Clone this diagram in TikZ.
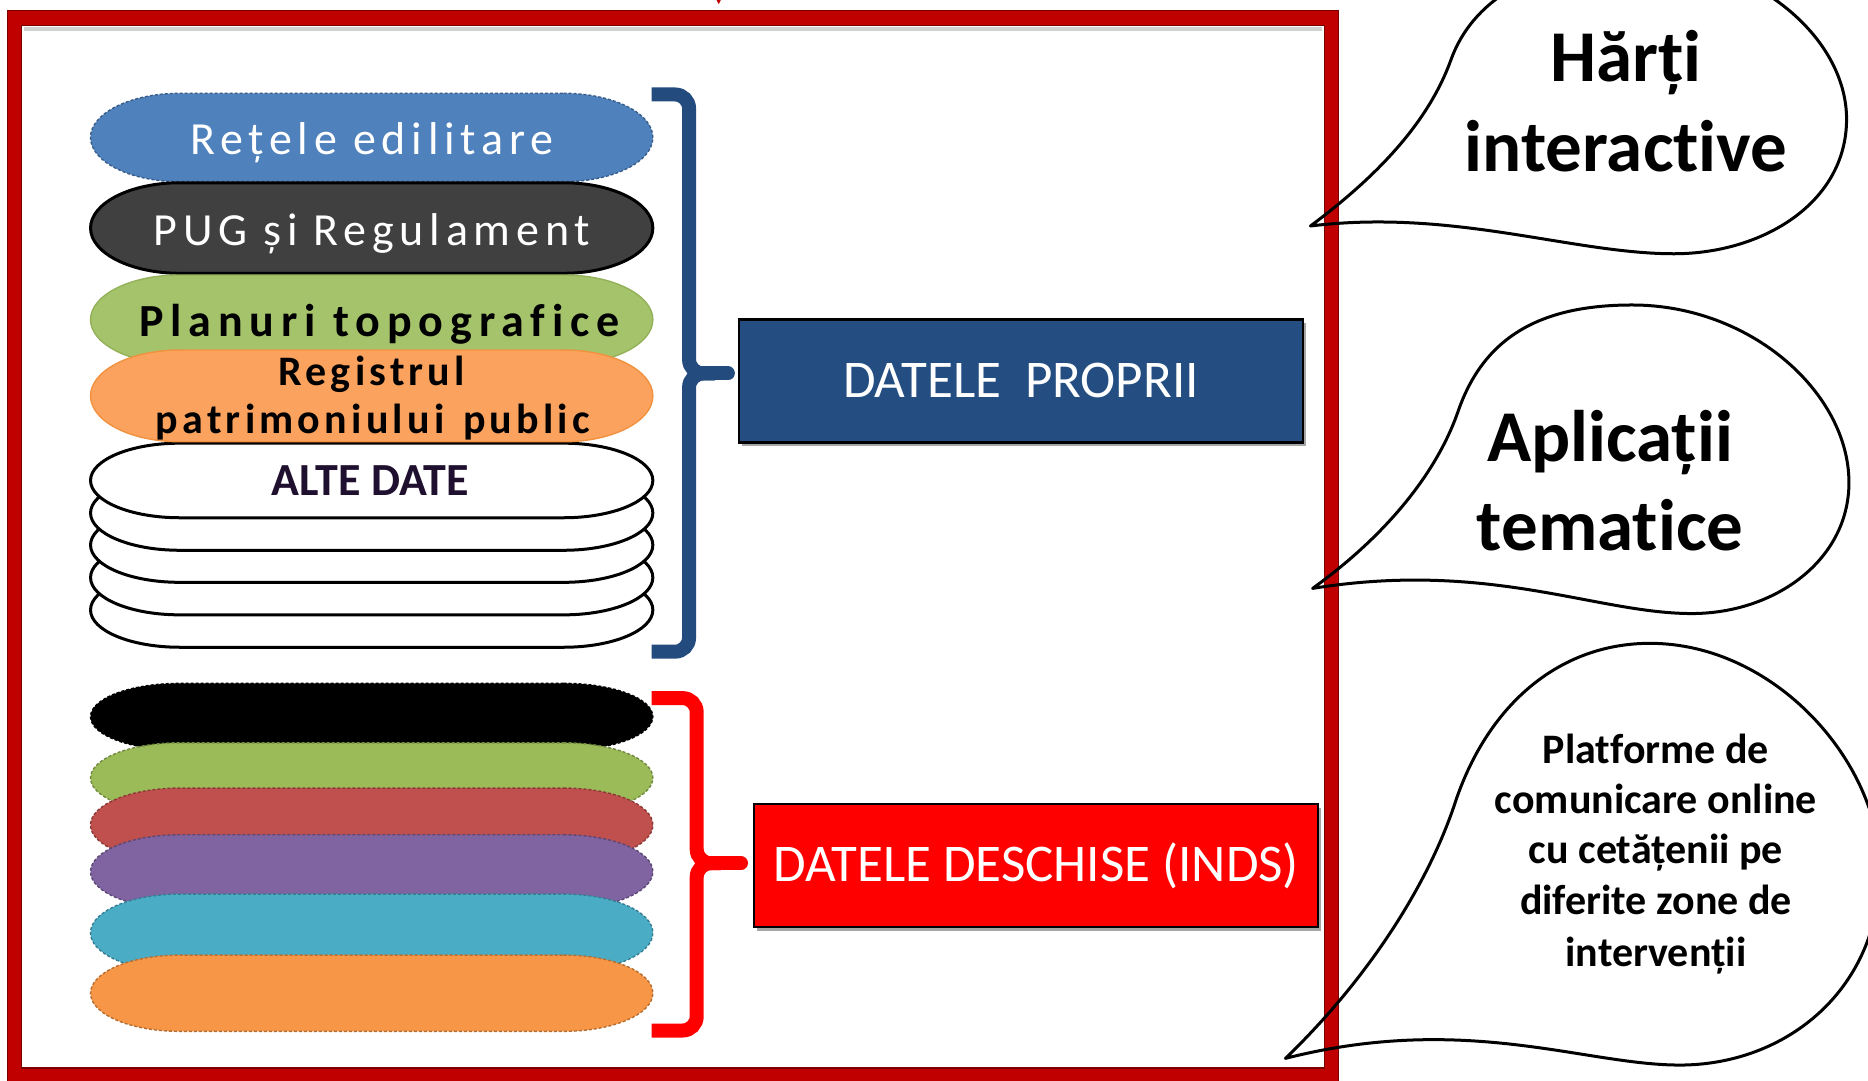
\documentclass[tikz,border=0pt]{standalone}
\usepackage{fontspec}
\setmainfont{Carlito}[Ligatures={NoCommon}]
\newfontfamily\spacedA{Carlito}[LetterSpace=12.5, Ligatures={NoCommon}]
\newfontfamily\spacedB{Carlito}[LetterSpace=10, Ligatures={NoCommon}]
\newfontfamily\spacedC{Carlito}[LetterSpace=15, Ligatures={NoCommon}]
\usetikzlibrary{shadows}
\definecolor{frameRed}{HTML}{C00000}
\definecolor{frameDark}{HTML}{7A0000}
\definecolor{brBlue}{HTML}{234B7E}
\definecolor{boxBlue}{HTML}{244E81}
\definecolor{pBlue}{HTML}{4F81BD}\definecolor{pBlueE}{HTML}{385D8A}
\definecolor{pGray}{HTML}{404040}
\definecolor{pGreen}{HTML}{A5C36A}\definecolor{pGreenE}{HTML}{93B158}
\definecolor{pOrange}{HTML}{FBA35E}\definecolor{pOrangeE}{HTML}{F2913F}
\definecolor{qGreen}{HTML}{9BBB59}\definecolor{qGreenE}{HTML}{71893F}
\definecolor{qRed}{HTML}{C0504D}\definecolor{qRedE}{HTML}{8C3836}
\definecolor{qPurple}{HTML}{8064A2}\definecolor{qPurpleE}{HTML}{5C4776}
\definecolor{qTeal}{HTML}{4BACC6}\definecolor{qTealE}{HTML}{357D91}
\definecolor{qOrange}{HTML}{F79646}\definecolor{qOrangeE}{HTML}{B66D31}
\definecolor{alteText}{HTML}{201030}
\newcommand\pillshape[4]{\path[#4] (#1+161,#2-#3) arc[start angle=-90,end angle=90,x radius=75,y radius=#3] -- (#1-161,#2+#3) arc[start angle=90,end angle=270,x radius=75,y radius=#3] -- cycle;}
\tikzset{
  pillwhite/.style={fill=white, draw=black, line width=3pt},
  dashedge/.style={dash pattern=on 3pt off 2pt, line width=1.4pt},
  bracketline/.style={line width=14pt, rounded corners=14pt},
  bubble/.style={draw=black, line width=3pt, line join=round},
  bigbox/.style={draw=black, line width=2.5pt, minimum width=564pt, minimum height=123pt, inner sep=0pt, text=white, font=\fontsize{53}{60}\selectfont, drop shadow={shadow xshift=3pt, shadow yshift=-4pt, opacity=0.35, fill=black}},
  pilltextA/.style={anchor=base, inner sep=0pt, font=\fontsize{46}{52}\selectfont\spacedA},
  pilltextB/.style={anchor=base, inner sep=0pt, font=\fontsize{46}{52}\selectfont\spacedC\bfseries},
  pilltextC/.style={anchor=base, inner sep=0pt, font=\fontsize{42}{48}\selectfont\spacedB\bfseries},
  bubbletext/.style={anchor=base, inner sep=0pt, font=\fontsize{73}{80}\selectfont\bfseries},
  smalltext/.style={anchor=base, inner sep=0pt, font=\fontsize{42}{48}\selectfont\bfseries},
}
\begin{document}
\begin{tikzpicture}[x=1.1913pt,y=-1.1913pt]
\path[use as bounding box] (0,0) rectangle (1568,906.6);
\clip (0,0) rectangle (1568,906.6);
\fill[white] (0,0) rectangle (1568,906.6);

% outer frame
\draw[frameRed, line width=15pt] (12.2,15.1) rectangle (1117.7,902.4);
\draw[frameDark, line width=1.2pt] (6.2,9.1) rectangle (1123.7,908.4);
\draw[frameDark, line width=1.2pt] (18.2,21.1) rectangle (1111.7,896.4);
\draw[black, opacity=0.18, line width=4pt] (20,24) -- (1110,24);
\fill[frameRed] (601.5,0) -- (605,0) -- (603.3,3.5) -- cycle;

% brackets
\draw[brBlue, bracketline] (547,79.3) -- (578.4,79.3) -- (578.4,313.5) -- (600,313.5);
\draw[brBlue, bracketline] (547,547) -- (578.4,547) -- (578.4,313.5) -- (600,313.5);
\draw[brBlue, line width=14pt, line cap=round] (590,313.5) -- (611,313.5);
\draw[red, bracketline] (547,586) -- (584.8,586) -- (584.8,724.6) -- (605,724.6);
\draw[red, bracketline] (547,865) -- (584.8,865) -- (584.8,724.6) -- (605,724.6);
\draw[red, line width=14pt, line cap=round] (598,724.6) -- (622,724.6);

% own data stack
\pillshape{312}{512}{31.3}{pillwhite}
\pillshape{312}{484.8}{31.3}{pillwhite}
\pillshape{312}{457.5}{31.3}{pillwhite}
\pillshape{312}{430.6}{31.3}{pillwhite}
\pillshape{312}{403.3}{31.3}{pillwhite}
\pillshape{312}{115.4}{37.1}{fill=pBlue, draw=pBlueE, dashedge}
\pillshape{312}{191.4}{38}{fill=pGray, draw=black, line width=3pt}
\pillshape{312}{268.3}{37.5}{fill=pGreen, draw=pGreenE, line width=1.4pt}
\pillshape{312}{332.3}{38.5}{fill=pOrange, draw=pOrangeE, line width=1.4pt}

% open data stack
\pillshape{312}{601.6}{28}{fill=black, draw=black, dashedge}
\pillshape{312}{653}{29.5}{fill=qGreen, draw=qGreenE, dashedge}
\pillshape{312}{692.5}{31}{fill=qRed, draw=qRedE, dashedge}
\pillshape{312}{731.7}{31}{fill=qPurple, draw=qPurpleE, dashedge}
\pillshape{312}{783}{32.5}{fill=qTeal, draw=qTealE, dashedge}
\pillshape{312}{833.7}{32}{fill=qOrange, draw=qOrangeE, dashedge}

% pill texts
\node[pilltextA, text=white] (retele) at (312,130) {Rețele edilitare};
\node[pilltextA, text=white] (pug) at (312,205.7) {PUG și Regulament};
\node[pilltextB, text=black] (planuri) at (318.5,282.6) {Planuri topografice};
\node[pilltextC, text=black] (registrul) at (312,323.2) {Registrul};
\node[pilltextC, text=black] (patrimoniu) at (313,363.5) {patrimoniului\hspace{0.12em} public};
\node[anchor=base, inner sep=0pt, text=alteText, font=\fontsize{46}{52}\selectfont\bfseries] (alte) at (310.6,416) {ALTE DATE};

% boxes
\node[bigbox, fill=boxBlue] (proprii) at (857,319.7) {DATELE\ \ PROPRII};
\node[bigbox, fill=red] (deschise) at (869.8,726.4) {DATELE DESCHISE (INDS)};

% speech bubbles
\path[bubble] (1100,189.7) .. controls (1160,145) and (1200,100) .. (1218,50)
  .. controls (1236,0) and (1290,-35) .. (1380,-35)
  .. controls (1470,-35) and (1550,30) .. (1550,100)
  .. controls (1550,170) and (1480,213) .. (1405,213)
  .. controls (1320,213) and (1220,175) .. (1100,189.7) -- cycle;
\path[bubble] (1101.8,493.9) .. controls (1160,452) and (1205,400) .. (1224,345)
  .. controls (1245,285) and (1290,256) .. (1370,256)
  .. controls (1470,256) and (1552,330) .. (1552,405)
  .. controls (1552,470) and (1490,515) .. (1420,515)
  .. controls (1340,515) and (1250,470) .. (1101.8,493.9) -- cycle;
\path[bubble] (1079,888.4) .. controls (1150,820) and (1200,740) .. (1222,672)
  .. controls (1250,590) and (1310,540) .. (1385,540)
  .. controls (1490,540) and (1578,640) .. (1578,730)
  .. controls (1578,830) and (1500,894) .. (1410,894)
  .. controls (1330,894) and (1230,850) .. (1079,888.4) -- cycle;

\node[bubbletext] (harti) at (1365,68.6) {Hărți};
\node[bubbletext] (interactive) at (1365,144.1) {interactive};
\node[bubbletext] (aplicatii) at (1351.5,387.6) {Aplicații};
\node[bubbletext] (tematice) at (1351.5,461.7) {tematice};
\node[smalltext] (pl1) at (1390,640.7) {Platforme de};
\node[smalltext] (pl2) at (1390,682.7) {comunicare online};
\node[smalltext] (pl3) at (1390,724.7) {cu cetățenii pe};
\node[smalltext] (pl4) at (1390,768) {diferite zone de};
\node[smalltext] (pl5) at (1390,811.5) {intervenții};
\end{tikzpicture}
\end{document}
